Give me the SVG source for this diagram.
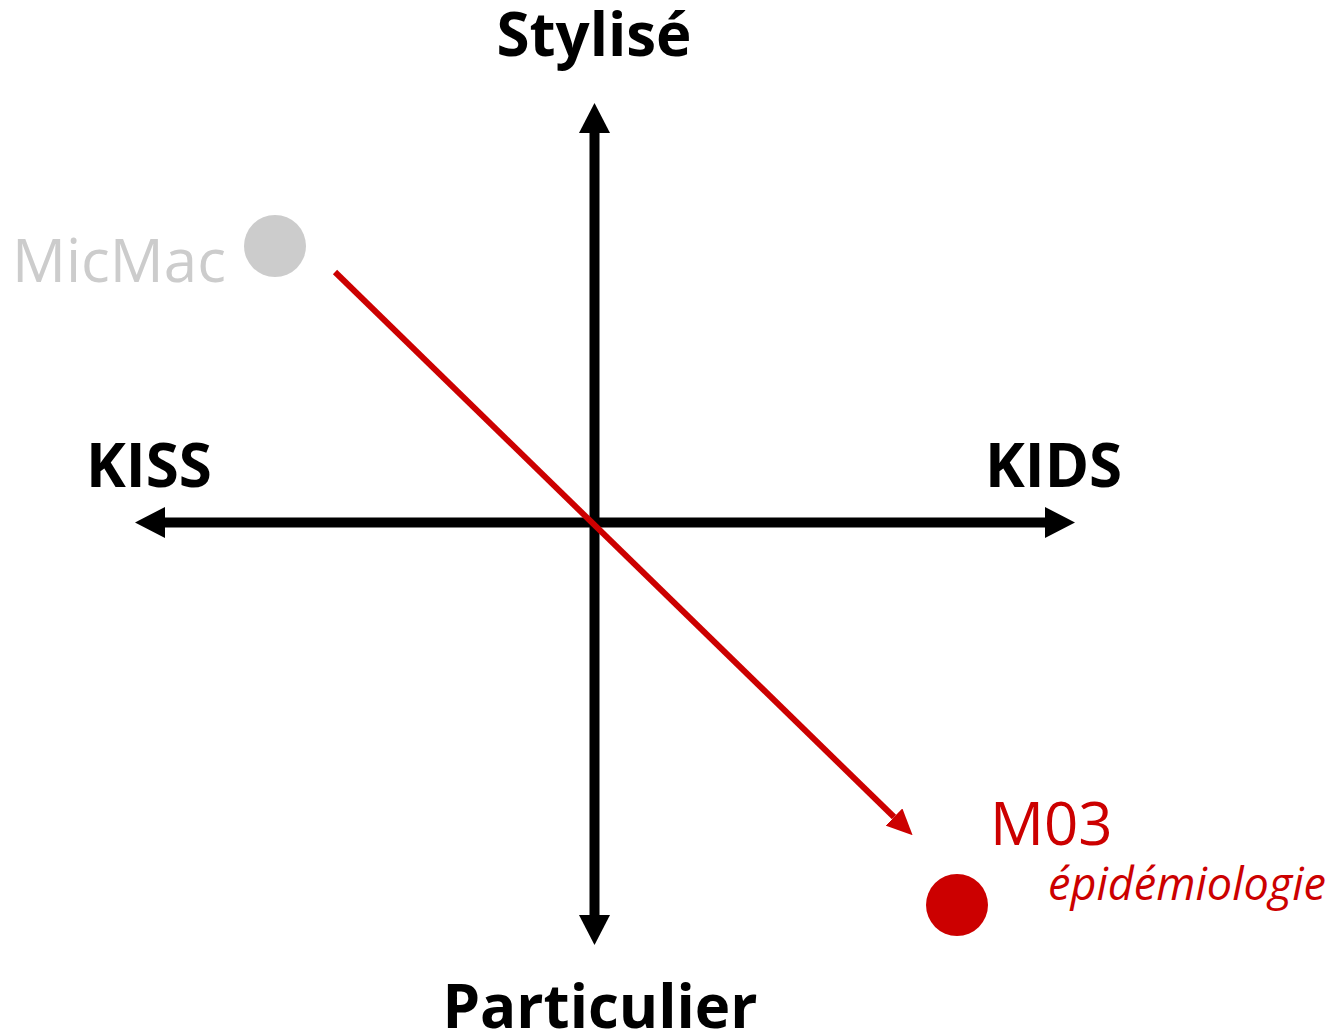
<svg xmlns="http://www.w3.org/2000/svg" width="1339" height="1036" viewBox="0 0 1339 1036">
<style>
.bold{font-family:"Open Sans","Liberation Sans",sans-serif;font-weight:700;font-size:60px;fill:#000}
.axis{stroke:#000;stroke-width:10;fill:none}
.red{stroke:#cc0000;stroke-width:6;fill:none}
</style>
<defs>
<marker id="ah" markerUnits="userSpaceOnUse" markerWidth="30" markerHeight="31" viewBox="0 0 30 31" refX="0" refY="15.5" orient="auto-start-reverse"><path d="M0,0 L30,15.5 L0,31 z" fill="#000"/></marker>
<marker id="rh" markerUnits="userSpaceOnUse" markerWidth="26" markerHeight="24" viewBox="0 0 26 24" refX="0" refY="12" orient="auto"><path d="M0,0 L26,12 L0,24 z" fill="#cc0000"/></marker>
</defs>
<rect width="1339" height="1036" fill="#fff"/>
<g id="connectors">
<line class="axis" x1="594.5" y1="133" x2="594.5" y2="915" marker-start="url(#ah)" marker-end="url(#ah)"/>
<line class="axis" x1="165" y1="522.5" x2="1045" y2="522.5" marker-start="url(#ah)" marker-end="url(#ah)"/>
<line class="red" x1="335" y1="272" x2="894" y2="817" marker-end="url(#rh)"/>
</g>
<g id="label-stylise"><text class="bold" x="594" y="56" text-anchor="middle">Stylisé</text></g>
<g id="label-particulier"><text class="bold" x="600" y="1028" text-anchor="middle">Particulier</text></g>
<g id="label-kiss"><text class="bold" x="86" y="487">KISS</text></g>
<g id="label-kids"><text class="bold" x="985" y="487">KIDS</text></g>
<g id="node-micmac">
<circle cx="275" cy="246" r="31" fill="#cccccc"/>
<text x="12" y="282" font-family="Open Sans, Liberation Sans, sans-serif" font-size="60" fill="#cccccc">MicMac</text>
</g>
<g id="node-m03">
<circle cx="957" cy="905" r="31" fill="#cc0000"/>
<text x="990" y="845" font-family="Open Sans, Liberation Sans, sans-serif" font-size="60" fill="#cc0000">M03</text>
<text x="1326" y="900" text-anchor="end" font-family="Open Sans, Liberation Sans, sans-serif" font-style="italic" font-size="45" fill="#cc0000">épidémiologie</text>
</g>
</svg>
